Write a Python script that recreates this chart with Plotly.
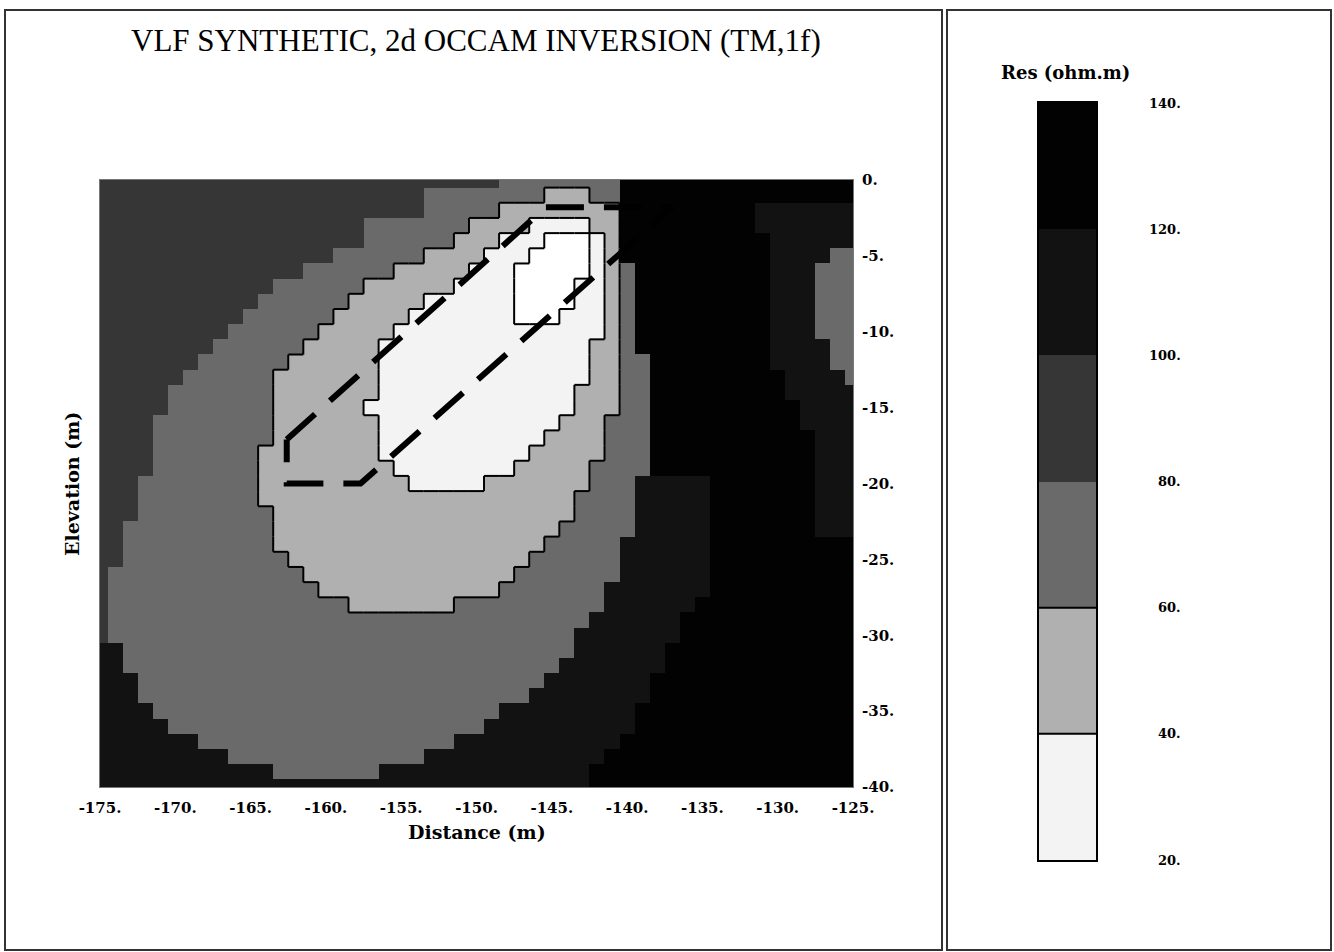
import plotly.graph_objects as go

W, H = 1334, 952

# Model mesh: cell centres along the profile (m) and elevation of each row (m)
distance = list(range(-175, -124))          # 51 columns, 1 m cells
elevation = [-r for r in range(41)]         # 0 .. -40 m

# Resistivity colour classes (ohm.m)
class_edges = [0, 20, 40, 60, 80, 100, 120, 140]
class_colors = ["#ffffff", "#f3f3f3", "#b0b0b0", "#6a6a6a",
                "#363636", "#121212", "#020202"]

# Inverted resistivity, one list per elevation row:
# (distance where a run of cells starts, resistivity of that run)
resistivity_runs = [
    [(-175, 90), (-148, 70), (-140, 130)],
    [(-175, 90), (-153, 70), (-145, 50), (-142, 70), (-140, 130)],
    [(-175, 90), (-153, 70), (-148, 50), (-140, 130), (-131, 110)],
    [(-175, 90), (-157, 70), (-150, 50), (-146, 30), (-142, 50), (-140, 130), (-131, 110)],
    [(-175, 90), (-157, 70), (-151, 50), (-148, 30), (-145, 15), (-142, 30), (-141, 50), (-140, 130), (-130, 110)],
    [(-175, 90), (-159, 70), (-153, 50), (-149, 30), (-146, 15), (-142, 30), (-141, 50), (-140, 130), (-130, 110), (-126, 70)],
    [(-175, 90), (-161, 70), (-155, 50), (-150, 30), (-147, 15), (-142, 30), (-141, 50), (-140, 70), (-139, 130), (-130, 110), (-127, 70)],
    [(-175, 90), (-163, 70), (-157, 50), (-151, 30), (-147, 15), (-143, 30), (-141, 50), (-140, 70), (-139, 130), (-130, 110), (-127, 70)],
    [(-175, 90), (-164, 70), (-158, 50), (-153, 30), (-147, 15), (-143, 30), (-141, 50), (-140, 70), (-139, 130), (-130, 110), (-127, 70)],
    [(-175, 90), (-165, 70), (-159, 50), (-154, 30), (-147, 15), (-144, 30), (-141, 50), (-140, 70), (-139, 130), (-130, 110), (-127, 70)],
    [(-175, 90), (-166, 70), (-160, 50), (-155, 30), (-141, 50), (-140, 70), (-139, 130), (-130, 110), (-127, 70)],
    [(-175, 90), (-167, 70), (-161, 50), (-156, 30), (-142, 50), (-140, 70), (-139, 130), (-130, 110), (-126, 70)],
    [(-175, 90), (-168, 70), (-162, 50), (-156, 30), (-142, 50), (-140, 70), (-138, 130), (-130, 110), (-126, 70)],
    [(-175, 90), (-169, 70), (-163, 50), (-156, 30), (-142, 50), (-140, 70), (-138, 130), (-129, 110), (-125, 70)],
    [(-175, 90), (-170, 70), (-163, 50), (-156, 30), (-143, 50), (-140, 70), (-138, 130), (-129, 110)],
    [(-175, 90), (-170, 70), (-163, 50), (-157, 30), (-143, 50), (-140, 70), (-138, 130), (-128, 110)],
    [(-175, 90), (-171, 70), (-163, 50), (-156, 30), (-144, 50), (-141, 70), (-138, 130), (-128, 110)],
    [(-175, 90), (-171, 70), (-163, 50), (-156, 30), (-145, 50), (-141, 70), (-138, 130), (-127, 110)],
    [(-175, 90), (-171, 70), (-164, 50), (-156, 30), (-146, 50), (-141, 70), (-138, 130), (-127, 110)],
    [(-175, 90), (-171, 70), (-164, 50), (-155, 30), (-147, 50), (-142, 70), (-138, 130), (-127, 110)],
    [(-175, 90), (-172, 70), (-164, 50), (-154, 30), (-149, 50), (-142, 70), (-139, 110), (-134, 130), (-127, 110)],
    [(-175, 90), (-172, 70), (-164, 50), (-143, 70), (-139, 110), (-134, 130), (-127, 110)],
    [(-175, 90), (-172, 70), (-163, 50), (-143, 70), (-139, 110), (-134, 130), (-127, 110)],
    [(-175, 90), (-173, 70), (-163, 50), (-144, 70), (-139, 110), (-134, 130), (-127, 110)],
    [(-175, 90), (-173, 70), (-163, 50), (-145, 70), (-140, 110), (-134, 130)],
    [(-175, 90), (-173, 70), (-162, 50), (-146, 70), (-140, 110), (-134, 130)],
    [(-175, 90), (-174, 70), (-161, 50), (-147, 70), (-140, 110), (-134, 130)],
    [(-175, 90), (-174, 70), (-160, 50), (-148, 70), (-141, 110), (-134, 130)],
    [(-175, 90), (-174, 70), (-158, 50), (-151, 70), (-141, 110), (-135, 130)],
    [(-175, 90), (-174, 70), (-142, 110), (-136, 130)],
    [(-175, 90), (-174, 70), (-143, 110), (-136, 130)],
    [(-175, 110), (-173, 70), (-143, 110), (-137, 130)],
    [(-175, 110), (-173, 70), (-144, 110), (-137, 130)],
    [(-175, 110), (-172, 70), (-145, 110), (-138, 130)],
    [(-175, 110), (-172, 70), (-146, 110), (-138, 130)],
    [(-175, 110), (-171, 70), (-148, 110), (-139, 130)],
    [(-175, 110), (-170, 70), (-149, 110), (-139, 130)],
    [(-175, 110), (-168, 70), (-151, 110), (-140, 130)],
    [(-175, 110), (-166, 70), (-153, 110), (-141, 130)],
    [(-175, 110), (-163, 70), (-156, 110), (-142, 130)],
    [(-175, 110), (-142, 130)],
]

# Outline of the synthetic conductive body (dashed)
body_x = [-162.6, -145.4, -137.0, -157.7, -162.6, -162.6]
body_y = [-17.1, -1.8, -1.8, -20.0, -20.0, -17.1]

# Tick labels
x_ticks = [-175, -170, -165, -160, -155, -150, -145, -140, -135, -130, -125]
y_ticks = [0, -5, -10, -15, -20, -25, -30, -35, -40]
scale_ticks = [140, 120, 100, 80, 60, 40, 20]


def expand(runs, last):
    row = []
    for i, (start, val) in enumerate(runs):
        stop = runs[i + 1][0] if i + 1 < len(runs) else last + 1
        row += [val] * (stop - start)
    return row


z = [expand(runs, distance[-1]) for runs in resistivity_runs]


def cls(v):
    for k in range(len(class_edges) - 1):
        if class_edges[k] <= v < class_edges[k + 1]:
            return k
    return len(class_edges) - 2


# discrete colour scale
zmin, zmax = class_edges[0], class_edges[-1]
colorscale = []
for k, col in enumerate(class_colors):
    colorscale.append([(class_edges[k] - zmin) / (zmax - zmin), col])
    colorscale.append([(class_edges[k + 1] - zmin) / (zmax - zmin), col])

# black outlines along the class boundaries of the low-resistivity zones
ox, oy = [], []
nr, nc = len(z), len(z[0])
for r in range(nr):
    for c in range(nc):
        a = cls(z[r][c])
        if c + 1 < nc:
            b = cls(z[r][c + 1])
            if a != b and min(a, b) <= 2:
                xe = distance[c] + 0.5
                ox += [xe, xe, None]
                oy += [elevation[r] + 0.5, elevation[r] - 0.5, None]
        if r + 1 < nr:
            b = cls(z[r + 1][c])
            if a != b and min(a, b) <= 2:
                ye = elevation[r] - 0.5
                ox += [distance[c] - 0.5, distance[c] + 0.5, None]
                oy += [ye, ye, None]

fig = go.Figure()

fig.add_trace(go.Heatmap(
    x=distance, y=elevation, z=z, zmin=zmin, zmax=zmax,
    colorscale=colorscale, showscale=False, hoverinfo="skip",
    xaxis="x", yaxis="y"))

fig.add_trace(go.Scatter(
    x=ox, y=oy, mode="lines", line=dict(color="black", width=2),
    hoverinfo="skip", showlegend=False, xaxis="x", yaxis="y"))

fig.add_trace(go.Scatter(
    x=body_x, y=body_y, mode="lines",
    line=dict(color="black", width=6, dash="38px,20px"),
    hoverinfo="skip", showlegend=False, xaxis="x", yaxis="y"))

# colour scale panel
scale_centres = [(class_edges[k] + class_edges[k + 1]) / 2 for k in range(1, len(class_edges) - 1)]
fig.add_trace(go.Heatmap(
    x=[0], y=scale_centres, z=[[v] for v in scale_centres],
    zmin=zmin, zmax=zmax, colorscale=colorscale, showscale=False,
    hoverinfo="skip", xaxis="x2", yaxis="y2"))

sx, sy = [], []
for k in range(1, len(class_edges) - 2):
    if k <= 2:
        sx += [-0.5, 0.5, None]
        sy += [class_edges[k + 1], class_edges[k + 1], None]
fig.add_trace(go.Scatter(
    x=sx, y=sy, mode="lines", line=dict(color="black", width=2),
    hoverinfo="skip", showlegend=False, xaxis="x2", yaxis="y2"))

tick_font = dict(family="DejaVu Serif", size=15, color="black", weight="bold")

fig.update_layout(
    width=W, height=H,
    margin=dict(l=0, r=0, t=0, b=0, autoexpand=False),
    paper_bgcolor="white", plot_bgcolor="white",
    showlegend=False,
    xaxis=dict(domain=[100 / W, 853 / W], range=[-175, -125],
               tickvals=x_ticks, ticktext=[f"{v}." for v in x_ticks],
               tickfont=tick_font, ticks="", ticklabelstandoff=7,
               showgrid=False, zeroline=False, automargin=False,
               showline=True, mirror=True, linecolor="#777", linewidth=1,
               anchor="y"),
    yaxis=dict(domain=[1 - 787 / H, 1 - 180 / H], range=[-40, 0],
               side="right",
               tickvals=y_ticks, ticktext=[f"{v}." for v in y_ticks],
               tickfont=tick_font, ticks="", ticklabelstandoff=5,
               showgrid=False, zeroline=False, automargin=False,
               showline=True, mirror=True, linecolor="#777", linewidth=1,
               anchor="x"),
    xaxis2=dict(domain=[1039 / W, 1096 / W], range=[-0.5, 0.5],
                showticklabels=False, ticks="", showgrid=False, zeroline=False,
                showline=True, mirror=True, linecolor="black", linewidth=2,
                automargin=False, anchor="y2"),
    yaxis2=dict(domain=[1 - 860 / H, 1 - 103 / H], range=[20, 140],
                showticklabels=False, ticks="", showgrid=False, zeroline=False,
                showline=True, mirror=True, linecolor="black", linewidth=2,
                automargin=False, anchor="x2"),
)

ann = [
    dict(text="VLF SYNTHETIC, 2d OCCAM INVERSION (TM,1f)", x=476 / W, y=1 - 41 / H,
         font=dict(family="Liberation Serif", size=31, color="black")),
    dict(text="<b>Distance (m)</b>", x=477 / W, y=1 - 832 / H,
         font=dict(family="DejaVu Serif", size=19, color="black")),
    dict(text="<b>Elevation (m)</b>", x=72 / W, y=1 - 484 / H, textangle=-90,
         font=dict(family="DejaVu Serif", size=19, color="black")),
    dict(text="<b>Res (ohm.m)</b>", x=1065 / W, y=1 - 73 / H,
         font=dict(family="DejaVu Serif", size=18, color="black")),
]
for a in ann:
    a.update(xref="paper", yref="paper", xanchor="center", yanchor="middle",
             showarrow=False)
for v in scale_ticks:
    ann.append(dict(text=f"<b>{v}.</b>", x=1183 / W, y=v, xref="paper", yref="y2",
                    xanchor="right", yanchor="middle", showarrow=False,
                    font=dict(family="DejaVu Serif", size=13, color="black")))
fig.update_layout(annotations=ann)

# panel frames
for x0, x1 in [(5, 942), (947, 1331)]:
    fig.add_shape(type="rect", xref="paper", yref="paper",
                  x0=x0 / W, x1=x1 / W, y0=1 - 950 / H, y1=1 - 10 / H,
                  line=dict(color="#333", width=2), fillcolor="rgba(0,0,0,0)")

fig.write_html("out.html")
